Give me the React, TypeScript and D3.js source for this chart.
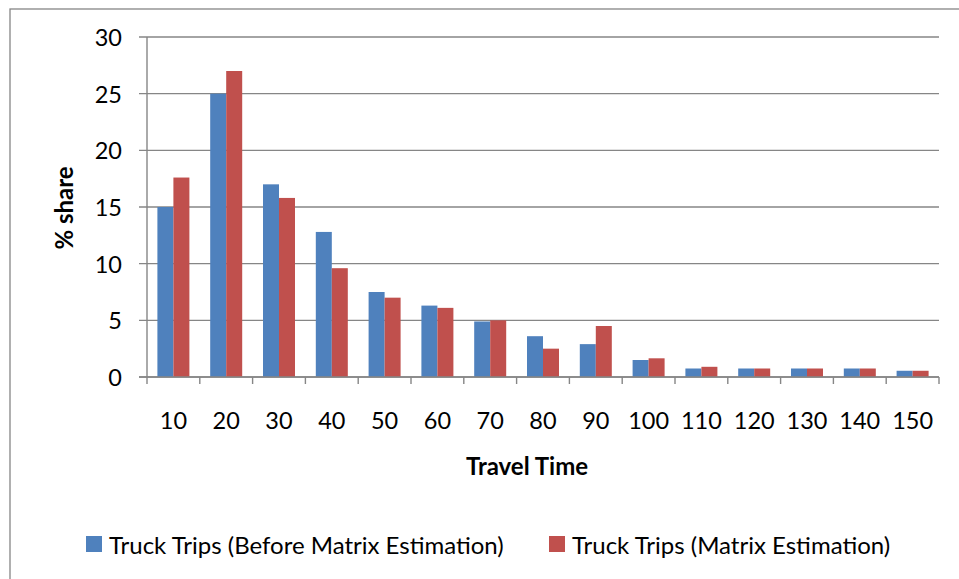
import React from "react";
import * as d3 from "d3";

const categories: string[] = ["10", "20", "30", "40", "50", "60", "70", "80", "90", "100", "110", "120", "130", "140", "150"];
const beforeValues: number[] = [15, 25, 17, 12.8, 7.5, 6.3, 4.9, 3.6, 2.9, 1.5, 0.75, 0.75, 0.75, 0.75, 0.55];
const afterValues: number[] = [17.6, 27, 15.8, 9.6, 7, 6.1, 5, 2.5, 4.5, 1.65, 0.9, 0.75, 0.75, 0.75, 0.55];
const seriesNames: string[] = ["Truck Trips (Before Matrix Estimation)", "Truck Trips (Matrix Estimation)"];
const yTicks: number[] = [0, 5, 10, 15, 20, 25, 30];

const W = 959;
const H = 579;
const colors = ["#4F81BD", "#C0504D"];
const gridColor = "#868686";
const font = "Lato, 'Open Sans', sans-serif";

export default function App() {
  const left = 147;
  const right = 939;
  const top = 37;
  const bottom = 377;

  const x = d3.scaleBand<string>().domain(categories).range([left, right]).paddingInner(0).paddingOuter(0);
  const inner = d3
    .scaleBand<number>()
    .domain([0, 1])
    .range([0, x.bandwidth()])
    .paddingInner(0)
    .paddingOuter(0.65);
  const y = d3.scaleLinear().domain([0, 30]).range([bottom, top]);

  const series = [beforeValues, afterValues];
  const tickEdges = [...categories.map((c) => x(c) as number), right];

  return (
    <svg
      width={W}
      height={H}
      style={{ position: "absolute", left: 0, top: 0, background: "#fff" }}
      fontFamily={font}
    >
      <rect x={0} y={0} width={W} height={H} fill="#fff" />
      {/* chart border */}
      <rect x={10} y={9} width={W + 10} height={H + 10} fill="none" stroke={gridColor} strokeWidth={1.3} />

      {/* gridlines */}
      {yTicks.map((t) => (
        <line key={"g" + t} x1={left - 8} x2={right} y1={y(t)} y2={y(t)} stroke={gridColor} strokeWidth={1.4} />
      ))}
      {/* y axis */}
      <line x1={left} x2={left} y1={top} y2={bottom} stroke={gridColor} strokeWidth={1.4} />
      {/* x tick marks */}
      {tickEdges.map((tx, i) => (
        <line key={"xt" + i} x1={tx} x2={tx} y1={bottom} y2={bottom + 7} stroke={gridColor} strokeWidth={1.4} />
      ))}

      {/* bars */}
      {series.map((vals, si) =>
        vals.map((v, i) => (
          <rect
            key={`b${si}-${i}`}
            x={(x(categories[i]) as number) + (inner(si) as number)}
            y={y(v)}
            width={inner.bandwidth()}
            height={bottom - y(v)}
            fill={colors[si]}
          />
        ))
      )}
      {/* redraw axis baseline over bars */}
      <line x1={left - 8} x2={right} y1={bottom} y2={bottom} stroke={gridColor} strokeWidth={1.4} />

      {/* y tick labels */}
      {yTicks.map((t) => (
        <text key={"yl" + t} x={122} y={y(t) + 9} textAnchor="end" fontSize={23.5} fill="#000">
          {t}
        </text>
      ))}
      {/* x tick labels */}
      {categories.map((c) => (
        <text key={"xl" + c} x={(x(c) as number) + x.bandwidth() / 2} y={429} textAnchor="middle" fontSize={23.5} fill="#000">
          {c}
        </text>
      ))}

      {/* axis titles */}
      <text x={527} y={475} textAnchor="middle" fontSize={24} fontWeight="bold" fill="#000">
        Travel Time
      </text>
      <text
        transform={`translate(73, 208) rotate(-90)`}
        textAnchor="middle"
        fontSize={24}
        fontWeight="bold"
        fill="#000"
      >
        % share
      </text>

      {/* legend */}
      <rect x={86} y={536} width={16} height={16} fill={colors[0]} />
      <text x={109} y={554} fontSize={24} fill="#000">
        {seriesNames[0]}
      </text>
      <rect x={549} y={536} width={16} height={16} fill={colors[1]} />
      <text x={572} y={554} fontSize={24} fill="#000">
        {seriesNames[1]}
      </text>
    </svg>
  );
}
